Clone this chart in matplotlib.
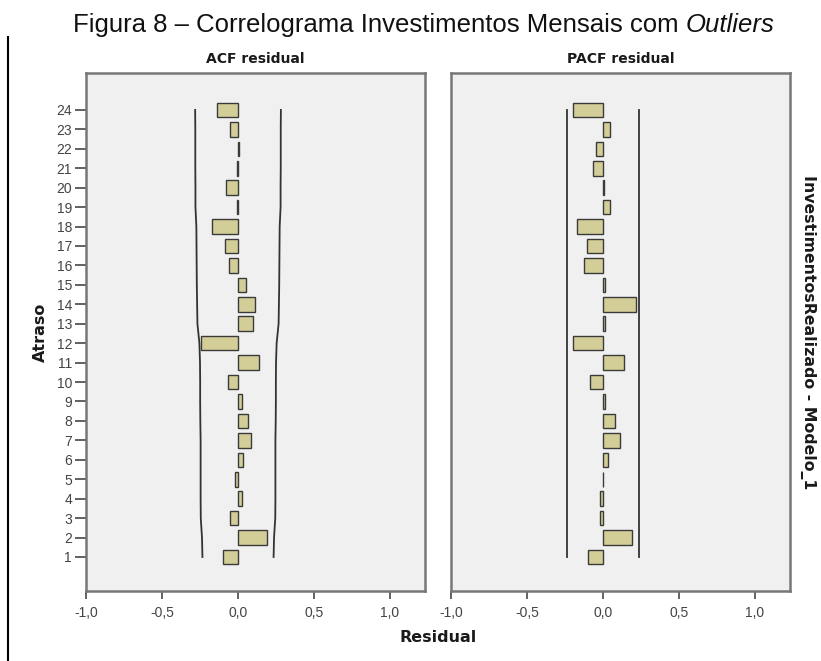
import matplotlib.pyplot as plt
from matplotlib.lines import Line2D
from matplotlib import font_manager

# Residual correlogram values, lags 1..24
lags = list(range(1, 25))
acf_vals = [-0.10, 0.193, -0.055, 0.026, -0.022, 0.033, 0.088, 0.066, 0.028, -0.068,
            0.138, -0.245, 0.098, 0.11, 0.055, -0.06, -0.085, -0.173, -0.007, -0.08,
            -0.007, 0.005, -0.05, -0.136]
pacf_vals = [-0.10, 0.193, -0.018, -0.018, -0.003, 0.033, 0.109, 0.077, 0.01, -0.088,
             0.14, -0.197, 0.015, 0.219, 0.015, -0.123, -0.105, -0.171, 0.046, 0.005,
             -0.066, -0.046, 0.048, -0.197]
# confidence limits
acf_limit = [0.234, 0.237, 0.245, 0.246, 0.246, 0.246, 0.246, 0.248, 0.249, 0.249,
             0.250, 0.254, 0.267, 0.269, 0.271, 0.272, 0.273, 0.274, 0.280, 0.280,
             0.281, 0.281, 0.281, 0.282]
pacf_limit = 0.234
xticks = [-1.0, -0.5, 0.0, 0.5, 1.0]
xticklabels = ['-1,0', '-0,5', '0,0', '0,5', '1,0']

installed = {f.name for f in font_manager.fontManager.ttflist}
narrow = 'Liberation Sans Narrow' if 'Liberation Sans Narrow' in installed else 'Liberation Sans'

W, H = 821, 661
fig = plt.figure(figsize=(W / 100, H / 100), dpi=100)

bar_color = '#d3ce97'
bg = '#f0f0f0'
spine_color = '#777777'


def px(x0, y0, x1, y1):
    return [x0 / W, 1 - y1 / H, (x1 - x0) / W, (y1 - y0) / H]


ax1 = fig.add_axes(px(86, 73, 425, 591))
ax2 = fig.add_axes(px(451, 73, 790, 591))

panels = [(ax1, acf_vals, 'ACF residual', (86 + 425) / 2),
          (ax2, pacf_vals, 'PACF residual', (451 + 790) / 2)]
for ax, vals, name, cx in panels:
    ax.set_facecolor(bg)
    ax.barh(lags, vals, height=0.75, color=bar_color, edgecolor='#3a3a3a', linewidth=1.0, zorder=3)
    ax.set_xlim(-1.0, 1.23)
    ax.set_ylim(-0.75, 25.9)
    ax.set_xticks(xticks)
    ax.set_xticklabels(xticklabels, fontfamily='Liberation Sans', fontsize=10, color='#444444')
    ax.tick_params(axis='x', direction='out', length=6, width=1.3, color='#555555', pad=5)
    for s in ax.spines.values():
        s.set_color(spine_color)
        s.set_linewidth(1.8)
    fig.text(cx / W, 1 - 63 / H, name, ha='center', va='baseline', fontfamily='DejaVu Sans',
             fontweight='bold', fontsize=10, color='#1a1a1a')

# confidence bands
ax1.plot(acf_limit, lags, color='#333333', linewidth=1.3, zorder=2)
ax1.plot([-v for v in acf_limit], lags, color='#333333', linewidth=1.3, zorder=2)
ax2.plot([pacf_limit] * len(lags), lags, color='#333333', linewidth=1.3, zorder=2)
ax2.plot([-pacf_limit] * len(lags), lags, color='#333333', linewidth=1.3, zorder=2)

ax1.set_yticks(lags)
ax1.set_yticklabels([str(l) for l in lags], fontfamily='Liberation Sans', fontsize=10, color='#444444')
ax1.tick_params(axis='y', direction='out', length=8, width=1.3, color='#555555', pad=2)
ax2.set_yticks([])

# axis titles
fig.text(438 / W, 1 - 638 / H, 'Residual', ha='center', va='center',
         fontfamily='DejaVu Sans', fontweight='bold', fontsize=11.5, color='#1a1a1a')
fig.text(40 / W, 1 - 332 / H, 'Atraso', ha='center', va='center', rotation=90,
         fontfamily='DejaVu Sans', fontweight='bold', fontsize=11.5, color='#1a1a1a')
fig.text(808 / W, 1 - 332 / H, 'InvestimentosRealizado - Modelo_1', ha='center', va='center',
         rotation=270, fontfamily='DejaVu Sans', fontweight='bold', fontsize=11.3, color='#1a1a1a')

# frame line on the left
fig.add_artist(Line2D([8 / W, 8 / W], [0, 1 - 37 / H], color='black', linewidth=1.5))

# heading built from pieces with mixed styles, centred over the panels
renderer = fig.canvas.get_renderer()
pieces = [('Figura 8 – Correlograma Investimentos Mensais com ', 'normal'), ('Outliers', 'italic')]
texts = []
for txt, style in pieces:
    texts.append(fig.text(0, 1 - 32 / H, txt, ha='left', va='baseline', fontfamily=narrow,
                          fontstyle=style, fontsize=18.5, color='#111111'))
widths = [t.get_window_extent(renderer).width for t in texts]
x = (60 + 787) / 2 - sum(widths) / 2
for t, w in zip(texts, widths):
    t.set_x(x / W)
    x += w

fig.savefig('out.png', dpi=100)
